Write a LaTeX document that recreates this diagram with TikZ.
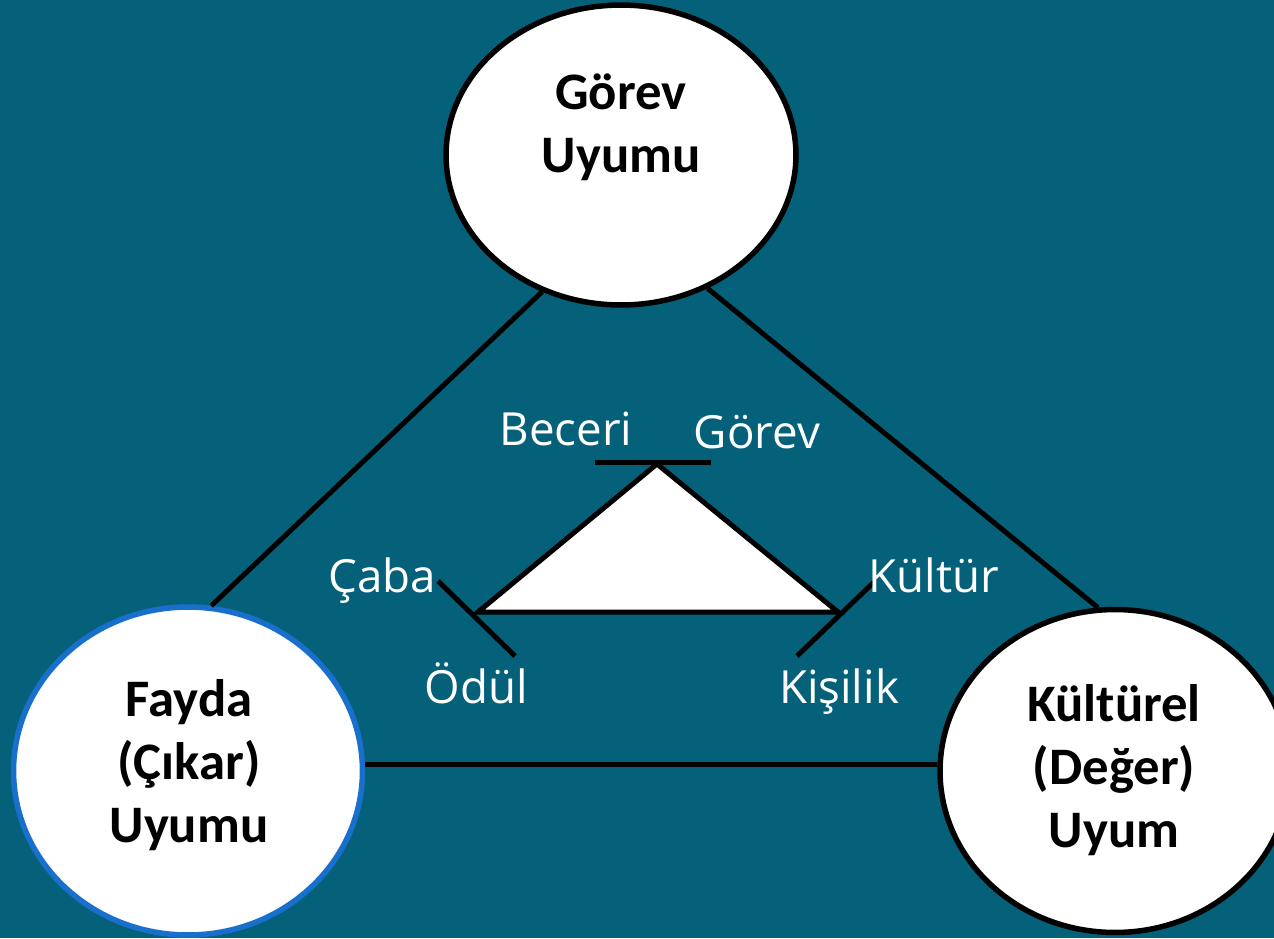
\documentclass[tikz,border=0pt]{standalone}
\usepackage{fontspec}
\setmainfont{Carlito}
\newfontfamily\uylabelfont{Open Sans}
\usetikzlibrary{shapes.geometric}
\definecolor{UyTeal}{RGB}{5,97,122}
\definecolor{UyBlue}{RGB}{24,112,204}
\tikzset{
  uy/circle/.style={
    ellipse,
    draw=black,
    line width=0.11cm,
    fill=white,
    inner sep=0pt
  },
  uy/title/.style={
    font=\bfseries\fontsize{30}{36}\selectfont,
    text=black,
    align=center
  },
  uy/link/.style={line width=0.1cm, draw=black},
  uy/tick/.style={line width=0.1cm, draw=black},
  uy/word/.style={font=\uylabelfont\fontsize{26}{31}\selectfont, text=white, anchor=base}
}

\begin{document}
\begin{tikzpicture}[x=0.02cm,y=-0.02cm]
  \fill[UyTeal] (0,0) rectangle (1274,938);
  \useasboundingbox (0,0) rectangle (1274,938);
  \clip (0,0) rectangle (1274,938);
  % the three circles
  \node[uy/circle,minimum width=7cm,minimum height=6cm] (gorev) at (621,155) {};
  \node[uy/circle,draw=UyBlue,minimum width=6.98cm,minimum height=6.56cm] (fayda) at (188,771) {};
  \node[uy/circle,minimum width=7cm,minimum height=6.46cm] (kultur) at (1115,771) {};
  \node[uy/title] (gorev-text) at (621,127) {Görev\\Uyumu};
  \node[uy/title] (fayda-text) at (189,765) {Fayda\\(Çıkar)\\Uyumu};
  \node[uy/title] (kultur-text) at (1114,770) {Kültürel\\(Değer)\\Uyum};
  \draw[uy/link] (gorev.240) -- (fayda.82);
  \draw[uy/link] (gorev.303.5) -- (kultur.96.5);
  \draw[uy/link] (fayda.2.6) -- (fayda.2.6 -| kultur.west);
  % inner triangle
  \coordinate (apex) at (657,464);
  \coordinate (left) at (478,612);
  \coordinate (right) at (838,612);
  \draw[line width=0.1cm, fill=white] (apex) -- (left) -- (right) -- cycle;
  \draw[uy/tick] (595,462) -- (711,462);
  \draw[uy/tick] (438,581) -- (515,656);
  \draw[uy/tick] (874,582) -- (797,656);
  \node[uy/word] (beceri) at (566,445) {Beceri};
  \node[uy/word] (gorev-word) at (757,448) {Görev};
  \node[uy/word] (caba) at (382,592) {Çaba};
  \node[uy/word] (kultur-word) at (934,592) {Kültür};
  \node[uy/word] (odul) at (476,703) {Ödül};
  \node[uy/word] (kisilik) at (839,703) {Kişilik};
\end{tikzpicture}
\end{document}
